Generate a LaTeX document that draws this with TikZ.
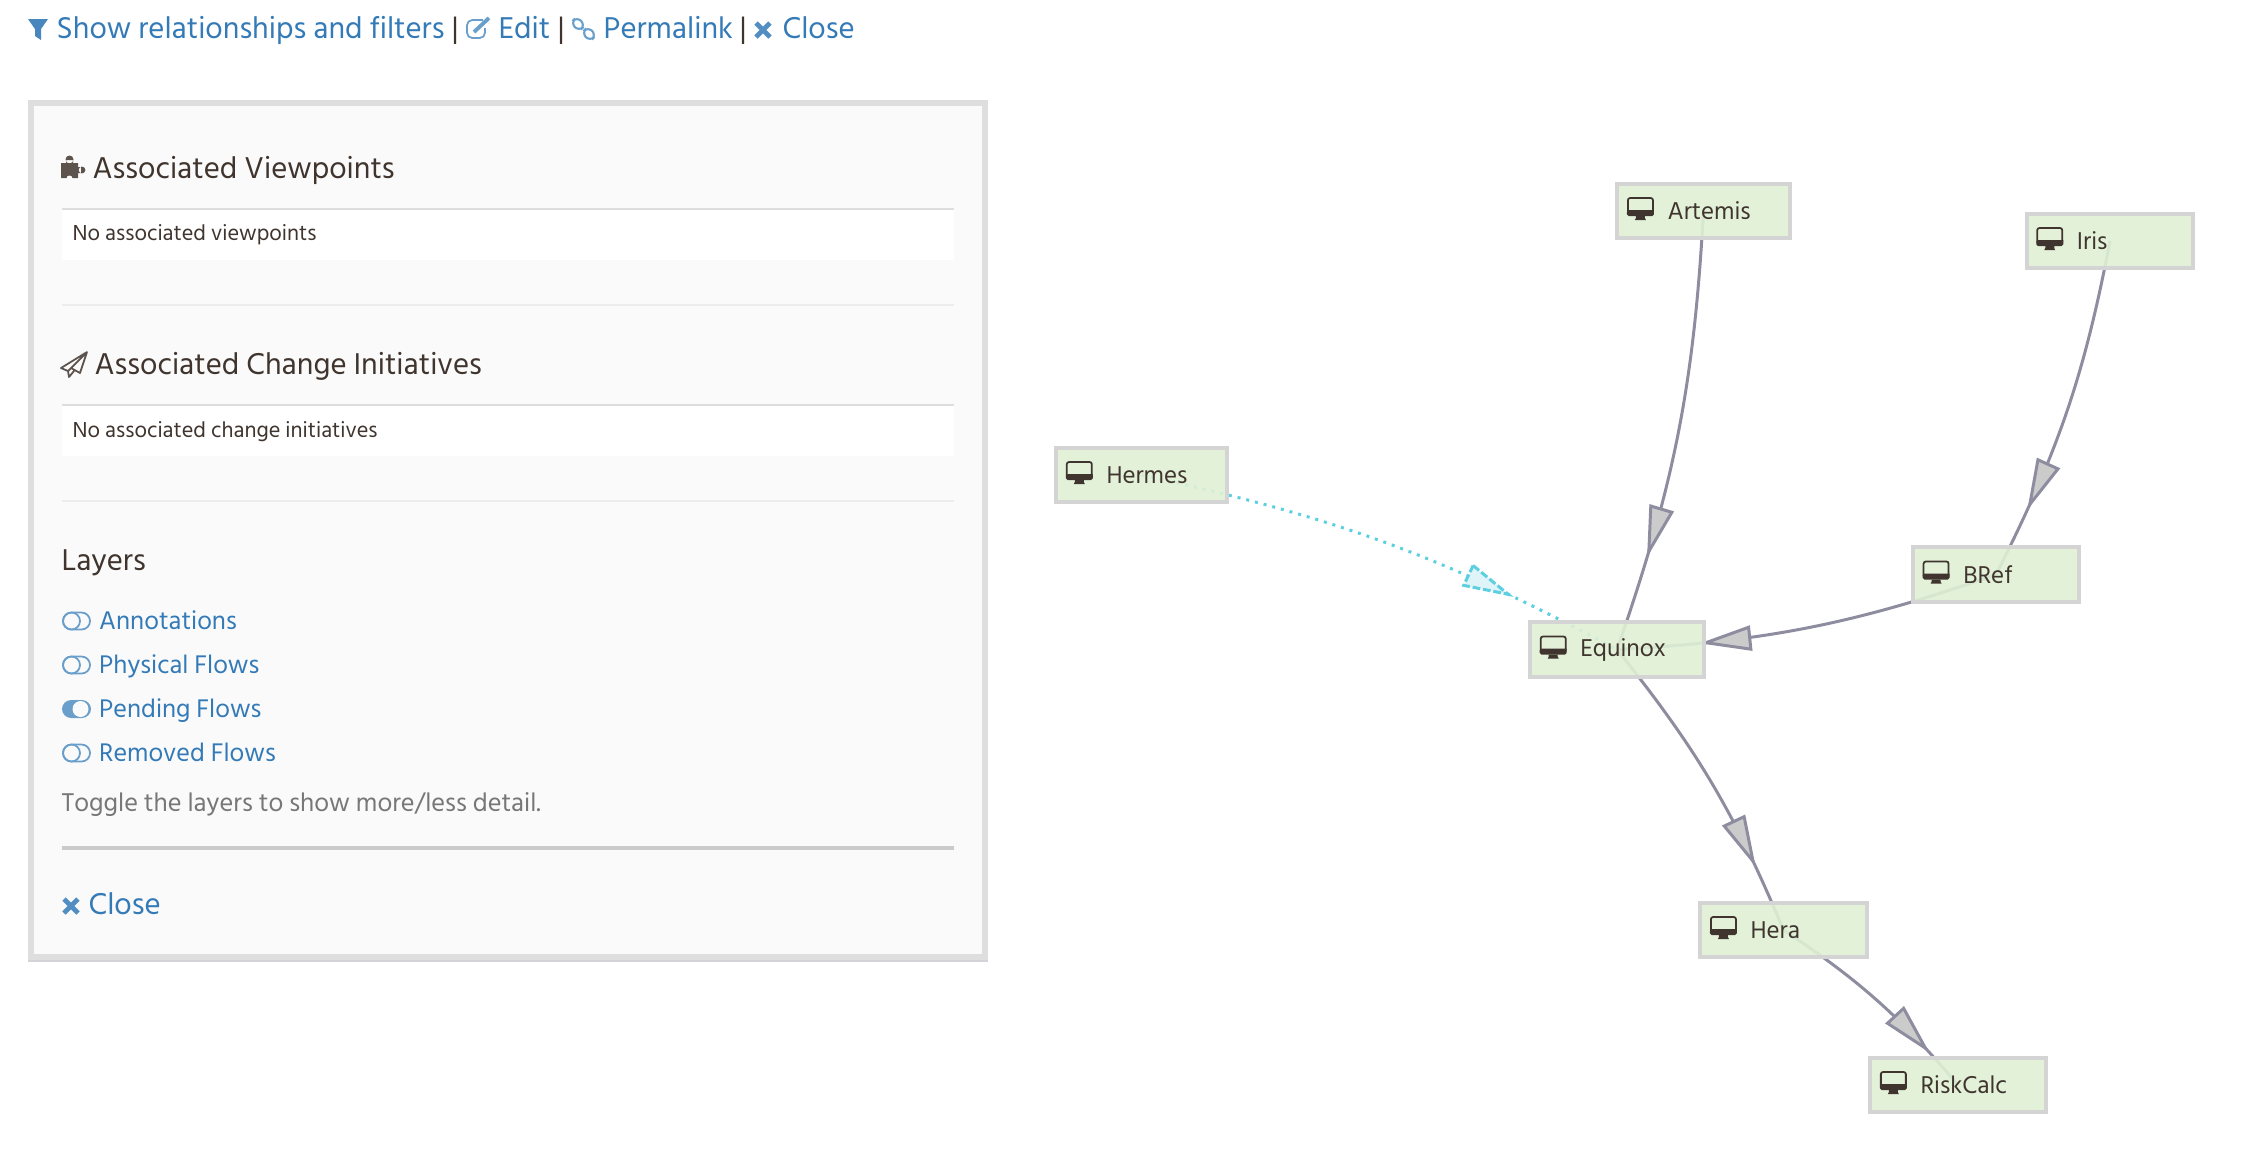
\documentclass[tikz,border=0pt]{standalone}
\usepackage{fontspec}
\setmainfont{Hind Siliguri}
\usetikzlibrary{backgrounds,decorations.markings}
\definecolor{linkblue}{HTML}{337AB7}
\definecolor{iconblue}{HTML}{6A9FCB}
\definecolor{inkdark}{HTML}{40352E}
\definecolor{hintgrey}{HTML}{777777}
\definecolor{panelbg}{HTML}{FAFAFA}
\definecolor{panelrim}{HTML}{DEDEDE}
\definecolor{panelshade}{HTML}{D4D4D8}
\definecolor{rulegrey}{HTML}{DDDDDD}
\definecolor{appfill}{HTML}{DFF0D4}
\definecolor{apprim}{HTML}{D4D4D4}
\definecolor{flowline}{HTML}{8E8D9F}
\definecolor{flowfill}{HTML}{CBCBCB}
\definecolor{pendline}{HTML}{5CCFE0}
\definecolor{pendfill}{HTML}{DFF4F9}
\tikzset{
  txt/.style={anchor=base west,inner sep=0pt,text=inkdark},
  toplink/.style={txt,text=linkblue,font=\fontsize{8.78pt}{11pt}\selectfont},
  topbar/.style={txt,font=\fontsize{8.78pt}{11pt}\selectfont},
  heading/.style={txt,font=\fontsize{8.78pt}{11pt}\selectfont},
  smalltxt/.style={txt,font=\fontsize{6.33pt}{9pt}\selectfont},
  layerlink/.style={txt,text=linkblue,font=\fontsize{7.43pt}{10pt}\selectfont},
  appnode/.style={draw=apprim,line width=1.14pt,fill=appfill,fill opacity=.9,text opacity=1,
    text=inkdark,inner xsep=0pt,inner ysep=0pt,minimum height=15.4pt,align=left,
    font=\fontsize{7.1pt}{9pt}\selectfont},
  flowhead/.style={draw=flowline,fill=flowfill,line width=.85pt,solid},
  pendhead/.style={draw=pendline,fill=pendfill,line width=.85pt,dash pattern=on 2.2pt off .8pt},
  flow/.style={draw=flowline,line width=.85pt,bend left=8,postaction={decorate,
    decoration={markings,mark=at position #1 with {\path[flowhead] (-44,-11) -- (0,0) -- (-44,11) -- cycle;}}}},
  pendflow/.style={draw=pendline,line width=.85pt,bend left=8,dash pattern=on .85pt off 1.7pt,postaction={decorate,
    decoration={markings,mark=at position #1 with {\path[pendhead] (-44,-11) -- (0,0) -- (-44,11) -- cycle;}}}},
  deskicon/.pic={
    \draw[inkdark,line width=.5pt,rounded corners=.6pt] (1,1) rectangle (26,17);
    \fill[inkdark] (0,13) -- (27,13) -- (27,17) [rounded corners=.5pt] -- (27,19) -- (0,19) -- cycle;
    \fill[inkdark] (9,19) -- (18,19) -- (18,21) -- (19,23) -- (8,23) -- (9,21) -- cycle;
  },
  toggleoff/.pic={
    \draw[iconblue,line width=.5pt,rounded corners=2.4pt] (1,-8.5) rectangle (28,8.5);
    \draw[iconblue,line width=.5pt] (9.5,0) circle (8.5);
  },
  toggleon/.pic={
    \fill[iconblue,rounded corners=2.6pt] (0,-9) rectangle (29,9);
    \fill[panelbg] (18.5,0) circle (8);
  },
  closeicon/.pic={
    \draw[linkblue!85,line width=1.35pt] (1,-7) -- (15,7) (15,-7) -- (1,7);
  },
}
\begin{document}
\begin{tikzpicture}[x=0.01cm,y=-0.01cm]
  \useasboundingbox (0,0) rectangle (2250,1156);

  % top links
  \fill[linkblue!90] (28,19) -- (48,19) -- (41,29) -- (41,40) -- (35,36) -- (35,29) -- cycle;
  \node[toplink] (showlink) at (56,38) {Show relationships and filters};
  \node[topbar] (barone) at (451,38) {|};
  \draw[iconblue,line width=.5pt,rounded corners=1.5pt] (483,20) -- (467,20) -- (467,38) -- (485,38) -- (485,28);
  \draw[iconblue,line width=1.1pt] (474,32) -- (489,18);
  \node[toplink] (editlink) at (498,38) {Edit};
  \node[topbar] (bartwo) at (557,38) {|};
  \draw[iconblue,line width=.6pt,rounded corners=1.8pt,rotate around={-45:(578,24)}] (572,19.5) rectangle (584,28.5);
  \draw[iconblue,line width=.6pt,rounded corners=1.8pt,rotate around={-45:(589,34)}] (583,29.5) rectangle (595,38.5);
  \node[toplink] (permalink) at (603,38) {Permalink};
  \node[topbar] (barthree) at (739,38) {|};
  \pic at (755,30) {closeicon};
  \node[toplink] (closelink) at (782,38) {Close};

  % panel
  \fill[panelshade] (28,103) rectangle (988,962);
  \filldraw[draw=panelrim,fill=panelbg,line width=1.7pt] (31,103) rectangle (985,957);

  \fill[inkdark!85] (61,163) rectangle (78,178) (69.5,159.5) circle (4) (82,170) circle (3.4) (66,160) rectangle (73,164) (77,167) rectangle (81,173);
  \fill[panelbg] (69.5,178.5) circle (3);
  \node[heading] (viewhead) at (92,178) {Associated Viewpoints};
  \fill[white] (62,209) rectangle (954,260);
  \draw[rulegrey,line width=.75pt] (62,209) -- (954,209);
  \node[smalltxt] (viewnone) at (72,240) {No associated viewpoints};
  \draw[rulegrey!55,line width=.5pt] (62,305) -- (954,305);

  \draw[inkdark!85,line width=.5pt,line join=round] (87,352) -- (61,368) -- (68,371) -- cycle (87,352) -- (80,373) -- (71,368) (68,371) -- (69,377) -- (74,371);
  \node[heading] (changehead) at (94,374) {Associated Change Initiatives};
  \fill[white] (62,405) rectangle (954,456);
  \draw[rulegrey,line width=.75pt] (62,405) -- (954,405);
  \node[smalltxt] (changenone) at (72,437) {No associated change initiatives};
  \draw[rulegrey!55,line width=.5pt] (62,501) -- (954,501);

  \node[heading] (layerhead) at (61,570) {Layers};
  \foreach \nm/\lbl/\ypos/\togg in {annot/Annotations/621/toggleoff, physical/Physical Flows/665/toggleoff,
      pending/Pending Flows/709/toggleon, removed/Removed Flows/753/toggleoff} {
    \pic at (62,\ypos) {\togg};
    \node[layerlink] (\nm) at (98.5,\ypos+8) {\lbl};
  }
  \node[txt,text=hintgrey,font=\fontsize{7.49pt}{10pt}\selectfont] (togglehint) at (61,811) {Toggle the layers to show more/less detail.};
  \draw[flowfill,line width=1.14pt] (62,848) -- (954,848);
  \pic at (63,906) {closeicon};
  \node[toplink] (panelclose) at (88,914) {Close};

  % graph
  \foreach \nm/\lbl/\cx/\cy/\boxw in {artemis/Artemis/1703.5/211/49, iris/Iris/2110/241/47.4,
      hermes/Hermes/1141.5/475/48.5, equinox/Equinox/1617/649.5/49.4, bref/BRef/1996/574.5/47.2,
      hera/Hera/1783.5/930/47.3, riskcalc/RiskCalc/1958/1085/49.9} {
    \node[appnode,text width=\boxw pt] (\nm) at (\cx,\cy) {\hspace*{14.3pt}\lbl};
    \pic at ([xshift=3.3pt,yshift=-4.3pt]\nm.north west) {deskicon};
  }
  \begin{scope}[on background layer]
    \draw[flow=.77] (artemis.center) to (equinox.center);
    \draw[flow=.78] (iris.center) to (bref.center);
    \draw[flow=.77] (bref.center) to (equinox.center);
    \draw[flow=.77] (equinox.center) to (hera.center);
    \draw[flow=.79] (hera.center) to (riskcalc.center);
    \draw[pendflow=.76] (hermes.center) to (equinox.center);
  \end{scope}
\end{tikzpicture}
\end{document}
